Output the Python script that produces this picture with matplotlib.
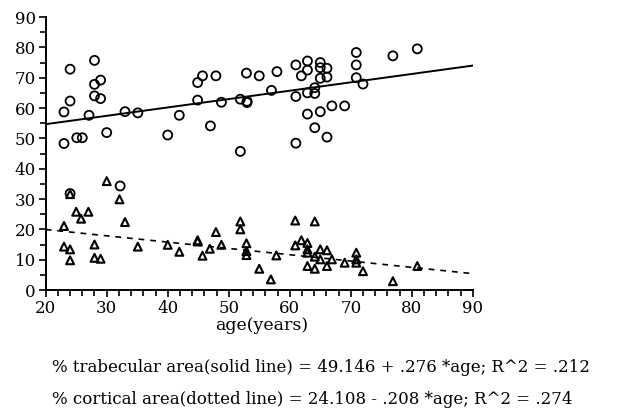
import matplotlib
matplotlib.use('Agg')
import matplotlib.pyplot as plt
import numpy as np
from matplotlib.ticker import MultipleLocator

# trabecular area (circles)
trab_age = [23.0, 23.0, 24.0, 24.0, 25.1, 26.0, 27.1, 28.0, 28.0, 28.0,
            29.0, 29.0, 30.0, 33.0, 35.1, 40.0, 41.9, 44.9, 44.9, 45.7,
            47.0, 47.9, 48.8, 51.9, 51.9, 52.9, 53.0, 53.0, 55.0, 57.0,
            57.9, 61.0, 61.0, 61.0, 61.9, 62.9, 62.9, 62.9, 62.9, 64.1,
            64.1, 64.1, 65.0, 65.0, 65.0, 65.0, 66.1, 66.1, 66.1, 66.9,
            69.0, 70.9, 70.9, 70.9, 72.0, 76.9, 80.9, 24.0, 32.2]
trab_val = [48.3, 58.7, 72.8, 62.3, 50.2, 50.2, 57.6, 75.7, 67.8, 64.0,
            69.2, 63.1, 51.9, 58.8, 58.4, 51.1, 57.6, 62.6, 68.4, 70.6,
            54.1, 70.6, 61.9, 45.7, 62.9, 71.5, 62.2, 61.8, 70.6, 65.8,
            72.0, 74.2, 63.8, 48.4, 70.6, 75.5, 72.5, 65.0, 58.0, 66.7,
            64.8, 53.5, 75.0, 73.3, 69.8, 58.8, 73.1, 70.2, 50.4, 60.7,
            60.7, 78.3, 74.2, 70.0, 67.9, 77.2, 79.5, 31.8, 34.3]

# cortical area (triangles)
cort_age = [23.0, 23.0, 24.0, 24.0, 24.0, 25.0, 25.8, 27.0, 28.0, 28.0,
            29.0, 30.0, 32.1, 33.0, 35.1, 40.0, 41.9, 44.9, 44.9, 45.7,
            46.9, 47.9, 48.8, 51.9, 51.9, 52.9, 52.9, 52.9, 55.0, 56.9,
            57.8, 60.9, 60.9, 61.9, 62.9, 62.9, 62.9, 62.9, 64.1, 64.1,
            64.1, 65.0, 65.0, 66.1, 66.1, 66.9, 69.0, 70.9, 70.9, 70.9,
            72.0, 76.9, 80.9]
cort_val = [21.1, 14.3, 13.4, 9.8, 31.6, 25.8, 23.5, 25.8, 15.0, 10.6,
            10.3, 35.9, 29.9, 22.4, 14.3, 14.9, 12.6, 16.4, 16.0, 11.3,
            13.6, 19.1, 14.9, 22.6, 20.0, 15.4, 12.8, 11.5, 7.0, 3.5,
            11.4, 22.9, 14.7, 16.4, 15.5, 13.4, 12.3, 7.9, 22.6, 11.0,
            7.0, 13.4, 10.1, 13.1, 7.9, 10.1, 9.0, 12.3, 10.1, 9.0,
            6.2, 2.9, 7.9]

# regression lines from the caption
trab_fit = (49.146, 0.276)
cort_fit = (24.108, -0.208)

plt.rcParams['font.family'] = ['DejaVu Serif']

fig = plt.figure(figsize=(6.3, 4.11), dpi=100)
ax = fig.add_axes([0.0725, 0.2944, 0.678, 0.6642])

ax.scatter(trab_age, trab_val, marker='o', s=42, facecolors='none',
           edgecolors='black', linewidths=1.3, zorder=3)
ax.scatter(cort_age, cort_val, marker='^', s=32, facecolors='none',
           edgecolors='black', linewidths=1.5, zorder=3)

xs = np.array([20, 90])
ax.plot(xs, trab_fit[0] + trab_fit[1] * xs, color='black', lw=1.4)
ax.plot(xs, cort_fit[0] + cort_fit[1] * xs, color='black', lw=1.2,
        dashes=(3.5, 3.5))

ax.set_xlim(20, 90)
ax.set_ylim(0, 90)
ax.spines['top'].set_visible(False)
ax.spines['right'].set_visible(False)
ax.spines['left'].set_linewidth(1.4)
ax.spines['bottom'].set_linewidth(1.4)
ax.xaxis.set_major_locator(MultipleLocator(10))
ax.xaxis.set_minor_locator(MultipleLocator(2))
ax.yaxis.set_major_locator(MultipleLocator(10))
ax.yaxis.set_minor_locator(MultipleLocator(5))
ax.tick_params(which='both', direction='out', width=1.2, labelsize=12, pad=2)
ax.tick_params(which='major', length=5)
ax.tick_params(which='minor', length=4)

fig.text(0.416, 0.207, 'age(years)', ha='center', va='center', fontsize=12.5)
fig.text(0.083, 0.107, '% trabecular area(solid line) = 49.146 + .276 *age; R^2 = .212',
         ha='left', va='center', fontsize=12)
fig.text(0.083, 0.029, '% cortical area(dotted line) = 24.108 - .208 *age; R^2 = .274',
         ha='left', va='center', fontsize=12)

fig.savefig('out.png', dpi=100)
